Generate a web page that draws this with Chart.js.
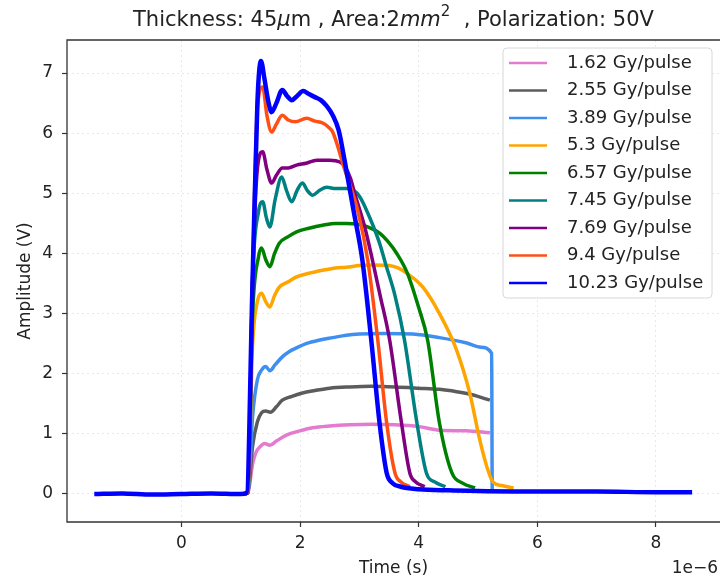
<!DOCTYPE html>
<html>
<head>
<meta charset="utf-8">
<script src="https://cdn.jsdelivr.net/npm/chart.js@4/dist/chart.umd.min.js"></script>
<style>
  body { margin: 0; background: #fff; }
</style>
</head>
<body>
<canvas id="pulseChart" width="720" height="583"></canvas>
<script>
// Time values are in microseconds, the "1e-6" offset is written next to the axis
const xTicks = [0, 2, 4, 6, 8];
const yTicks = [0, 1, 2, 3, 4, 5, 6, 7];

const doseLabels = [
	"1.62 Gy/pulse", "2.55 Gy/pulse", "3.89 Gy/pulse", "5.3 Gy/pulse", "6.57 Gy/pulse",
	"7.45 Gy/pulse", "7.69 Gy/pulse", "9.4 Gy/pulse", "10.23 Gy/pulse",
];
const doseColors = [
	"#e37bd0", "#5c5c5c", "#3f8ff0", "#ffa500", "#008000",
	"#008080", "#800080", "#ff4f14", "#0000ff",
];

// 1.62 Gy/pulse
const t162 = [1.05, 1.12, 1.20, 1.26, 1.32, 1.40, 1.49, 1.60, 1.77, 2.0, 2.21, 2.5, 2.84, 3.2, 3.6, 4.0, 4.35, 4.8, 5.2];
const v162 = [0, 0.02, 0.5, 0.7, 0.78, 0.84, 0.81, 0.88, 0.98, 1.05, 1.1, 1.13, 1.15, 1.16, 1.15, 1.12, 1.06, 1.05, 1.02];
// 2.55 Gy/pulse
const t255 = [1.05, 1.12, 1.20, 1.28, 1.35, 1.42, 1.50, 1.60, 1.70, 1.85, 2.04, 2.25, 2.50, 2.84, 3.2, 3.6, 4.0, 4.35, 4.64, 4.9, 5.2];
const v255 = [0, 0.02, 0.8, 1.2, 1.35, 1.38, 1.36, 1.45, 1.56, 1.62, 1.68, 1.72, 1.76, 1.78, 1.79, 1.78, 1.76, 1.74, 1.7, 1.65, 1.56];
// 3.89 Gy/pulse
const t389 = [1.05, 1.12, 1.20, 1.28, 1.35, 1.42, 1.49, 1.58, 1.70, 1.82, 1.94, 2.10, 2.33, 2.55, 2.78, 3.0, 3.4, 3.9, 4.35, 4.81, 5.05, 5.23, 5.24, 5.3];
const v389 = [0, 0.02, 1.3, 1.9, 2.06, 2.12, 2.05, 2.15, 2.28, 2.37, 2.43, 2.5, 2.56, 2.6, 2.64, 2.66, 2.67, 2.66, 2.6, 2.51, 2.44, 2.34, 0.05, 0.05];
// 5.3 Gy/pulse
const t530 = [1.05, 1.12, 1.20, 1.28, 1.35, 1.42, 1.49, 1.57, 1.65, 1.80, 1.94, 2.15, 2.38, 2.60, 2.78, 3.0, 3.25, 3.50, 3.65, 3.80, 4.07, 4.35, 4.64, 4.86, 5.03, 5.15, 5.25, 5.40, 5.60];
const v530 = [0, 0.02, 2.5, 3.2, 3.34, 3.2, 3.11, 3.3, 3.44, 3.53, 3.61, 3.67, 3.72, 3.76, 3.77, 3.8, 3.81, 3.8, 3.76, 3.67, 3.44, 3.0, 2.39, 1.68, 0.9, 0.45, 0.2, 0.14, 0.1];
// 6.57 Gy/pulse
const t657 = [1.05, 1.12, 1.20, 1.30, 1.35, 1.42, 1.49, 1.57, 1.65, 1.80, 1.94, 2.15, 2.38, 2.60, 2.78, 3.0, 3.15, 3.34, 3.48, 3.63, 3.81, 4.0, 4.15, 4.35, 4.56, 4.74, 4.95];
const v657 = [0, 0.02, 3.0, 3.95, 4.09, 3.9, 3.78, 4.0, 4.17, 4.28, 4.36, 4.42, 4.47, 4.5, 4.5, 4.48, 4.44, 4.34, 4.2, 4.0, 3.67, 3.1, 2.56, 1.18, 0.35, 0.18, 0.1];
// 7.45 Gy/pulse
const t745 = [1.05, 1.12, 1.20, 1.30, 1.37, 1.43, 1.49, 1.58, 1.69, 1.77, 1.86, 1.95, 2.04, 2.12, 2.21, 2.33, 2.45, 2.60, 2.78, 2.90, 3.0, 3.12, 3.33, 3.45, 3.60, 3.76, 3.97, 4.13, 4.27, 4.45];
const v745 = [0, 0.02, 3.6, 4.7, 4.86, 4.6, 4.44, 4.9, 5.27, 5.05, 4.86, 5.05, 5.17, 5.05, 4.97, 5.05, 5.1, 5.08, 5.08, 5.05, 4.95, 4.72, 4.2, 3.8, 3.3, 2.56, 1.18, 0.35, 0.2, 0.12];
// 7.69 Gy/pulse
const t769 = [1.05, 1.12, 1.20, 1.28, 1.37, 1.44, 1.52, 1.60, 1.70, 1.80, 1.94, 2.10, 2.28, 2.50, 2.67, 2.75, 2.85, 2.92, 3.09, 3.22, 3.35, 3.51, 3.71, 3.85, 3.95, 4.10];
const v769 = [0, 0.02, 3.6, 5.4, 5.69, 5.4, 5.17, 5.3, 5.42, 5.42, 5.47, 5.5, 5.55, 5.55, 5.52, 5.45, 5.25, 5.0, 4.44, 3.89, 3.3, 2.56, 1.18, 0.35, 0.2, 0.12];
// 9.4 Gy/pulse
const t940 = [1.05, 1.12, 1.20, 1.28, 1.37, 1.44, 1.52, 1.60, 1.70, 1.80, 1.92, 2.11, 2.25, 2.38, 2.48, 2.55, 2.75, 2.97, 3.14, 3.31, 3.46, 3.60, 3.70, 3.85];
const v940 = [0, 0.02, 3.6, 6.4, 6.77, 6.3, 6.02, 6.15, 6.3, 6.22, 6.19, 6.25, 6.2, 6.17, 6.1, 6.02, 5.4, 4.72, 3.89, 2.56, 1.18, 0.35, 0.2, 0.12];
// 10.23 Gy/pulse (full record, baseline on both sides)
const t1023 = [-1.47, -1.0, -0.5, 0, 0.5, 1.0, 1.10, 1.20, 1.28, 1.34, 1.40, 1.46, 1.52, 1.60, 1.70, 1.78, 1.86, 1.95, 2.05, 2.15, 2.25, 2.35, 2.45, 2.55, 2.65, 2.75, 2.90, 3.05, 3.20, 3.34, 3.46, 3.56, 3.70, 4.0, 4.5, 5.0, 6.0, 7.0, 8.0, 8.61];
const v1023 = [0.0, 0.01, -0.01, 0.0, 0.01, 0.0, 0.02, 3.6, 6.5, 7.2, 6.9, 6.55, 6.35, 6.5, 6.72, 6.62, 6.55, 6.62, 6.7, 6.65, 6.6, 6.55, 6.45, 6.3, 6.05, 5.55, 4.72, 3.89, 2.56, 1.18, 0.35, 0.18, 0.12, 0.08, 0.06, 0.05, 0.04, 0.04, 0.03, 0.03];

const times = [t162, t255, t389, t530, t657, t745, t769, t940, t1023];
const amps = [v162, v255, v389, v530, v657, v745, v769, v940, v1023];

const datasets = doseLabels.map((label, i) => ({
	label: label,
	data: times[i].map((t, j) => ({ x: t, y: amps[i][j] })),
	borderColor: doseColors[i],
	backgroundColor: doseColors[i],
	borderWidth: i === 8 ? 4.5 : 3.5,
	pointRadius: 0,
	cubicInterpolationMode: "monotone",
	// last series on top, like the original plot
	order: doseLabels.length - 1 - i,
}));

const FONT = "'DejaVu Sans', sans-serif";

// Title with italic units and a superscript
const titlePlugin = {
	id: "titlePlugin",
	afterDraw(chart) {
		const ctx = chart.ctx;
		const parts = [
			{ text: "Thickness: 45", font: "21px " + FONT },
			{ text: "\u03bc", font: "italic 21px " + FONT },
			{ text: "m , Area:2", font: "21px " + FONT },
			{ text: "mm", font: "italic 21px " + FONT },
			{ text: "2", font: "15px " + FONT, sup: true },
			{ text: "  , Polarization: 50V", font: "21px " + FONT },
		];
		ctx.save();
		let total = 0;
		parts.forEach((p) => {
			ctx.font = p.font;
			p.w = ctx.measureText(p.text).width;
			total += p.w;
		});
		const cx = (chart.chartArea.left + chart.chartArea.right) / 2;
		let x = cx - total / 2;
		ctx.fillStyle = "#222";
		ctx.textBaseline = "alphabetic";
		parts.forEach((p) => {
			ctx.font = p.font;
			ctx.fillText(p.text, x, p.sup ? 16 : 26);
			x += p.w;
		});
		ctx.restore();
	},
};

// Axes frame, offset text and legend box
const framePlugin = {
	id: "framePlugin",
	afterDraw(chart) {
		const ctx = chart.ctx;
		const a = chart.chartArea;
		ctx.save();
		ctx.strokeStyle = "#333";
		ctx.lineWidth = 1.3;
		ctx.beginPath();
		ctx.moveTo(a.right, a.top);
		ctx.lineTo(a.left, a.top);
		ctx.lineTo(a.left, a.bottom);
		ctx.lineTo(a.right, a.bottom);
		ctx.stroke();

		ctx.fillStyle = "#222";
		ctx.font = "17px " + FONT;
		ctx.textAlign = "right";
		ctx.textBaseline = "middle";
		ctx.fillText("1e\u22126", 718, 569);

		// legend
		const lx = 503, ly = 48, lw = 209, lh = 250;
		ctx.fillStyle = "rgba(255,255,255,0.85)";
		ctx.strokeStyle = "#d8d8d8";
		ctx.lineWidth = 1;
		ctx.beginPath();
		ctx.roundRect(lx, ly, lw, lh, 4);
		ctx.fill();
		ctx.stroke();
		ctx.textAlign = "left";
		ctx.font = "18px " + FONT;
		chart.data.datasets.forEach((ds, i) => {
			const y = ly + 15 + i * 27.5;
			ctx.strokeStyle = ds.borderColor;
			ctx.lineWidth = 2.5;
			ctx.beginPath();
			ctx.moveTo(lx + 6, y);
			ctx.lineTo(lx + 44, y);
			ctx.stroke();
			ctx.fillStyle = "#222";
			ctx.fillText(ds.label, lx + 64, y);
		});
		ctx.restore();
	},
};

const ctx = document.getElementById("pulseChart").getContext("2d");
const pulseChart = new Chart(ctx, {
	type: "line",
	data: { datasets: datasets },
	options: {
		responsive: false,
		animation: false,
		devicePixelRatio: 1,
		layout: { padding: { top: 40, right: 0, left: 0, bottom: 0 } },
		plugins: {
			legend: { display: false },
			title: { display: false },
			tooltip: { enabled: false },
		},
		scales: {
			x: {
				type: "linear",
				min: -1.93,
				max: 9.08,
				afterFit: (scale) => { scale.height = 61; },
				afterBuildTicks: (scale) => { scale.ticks = xTicks.map((v) => ({ value: v })); },
				grid: {
					color: "rgba(0,0,0,0.09)",
					tickColor: "#333",
					tickLength: 5,
					tickWidth: 1.2,
				},
				border: { display: false, dash: [2, 3] },
				ticks: { color: "#222", font: { family: FONT, size: 17 }, padding: 6, maxRotation: 0 },
				title: {
					display: true,
					text: "Time (s)",
					color: "#222",
					font: { family: FONT, size: 17 },
					padding: { top: 0, bottom: 4 },
				},
			},
			y: {
				min: -0.466,
				max: 7.55,
				afterFit: (scale) => { scale.width = 67; },
				afterBuildTicks: (scale) => { scale.ticks = yTicks.map((v) => ({ value: v })); },
				grid: {
					color: "rgba(0,0,0,0.09)",
					tickColor: "#333",
					tickLength: 5,
					tickWidth: 1.2,
				},
				border: { display: false, dash: [2, 3] },
				ticks: { color: "#222", font: { family: FONT, size: 17 }, padding: 9 },
				title: {
					display: true,
					text: "Amplitude (V)",
					color: "#222",
					font: { family: FONT, size: 17 },
					padding: { top: 15, bottom: 0 },
				},
			},
		},
	},
	plugins: [titlePlugin, framePlugin],
});
</script>
</body>
</html>
